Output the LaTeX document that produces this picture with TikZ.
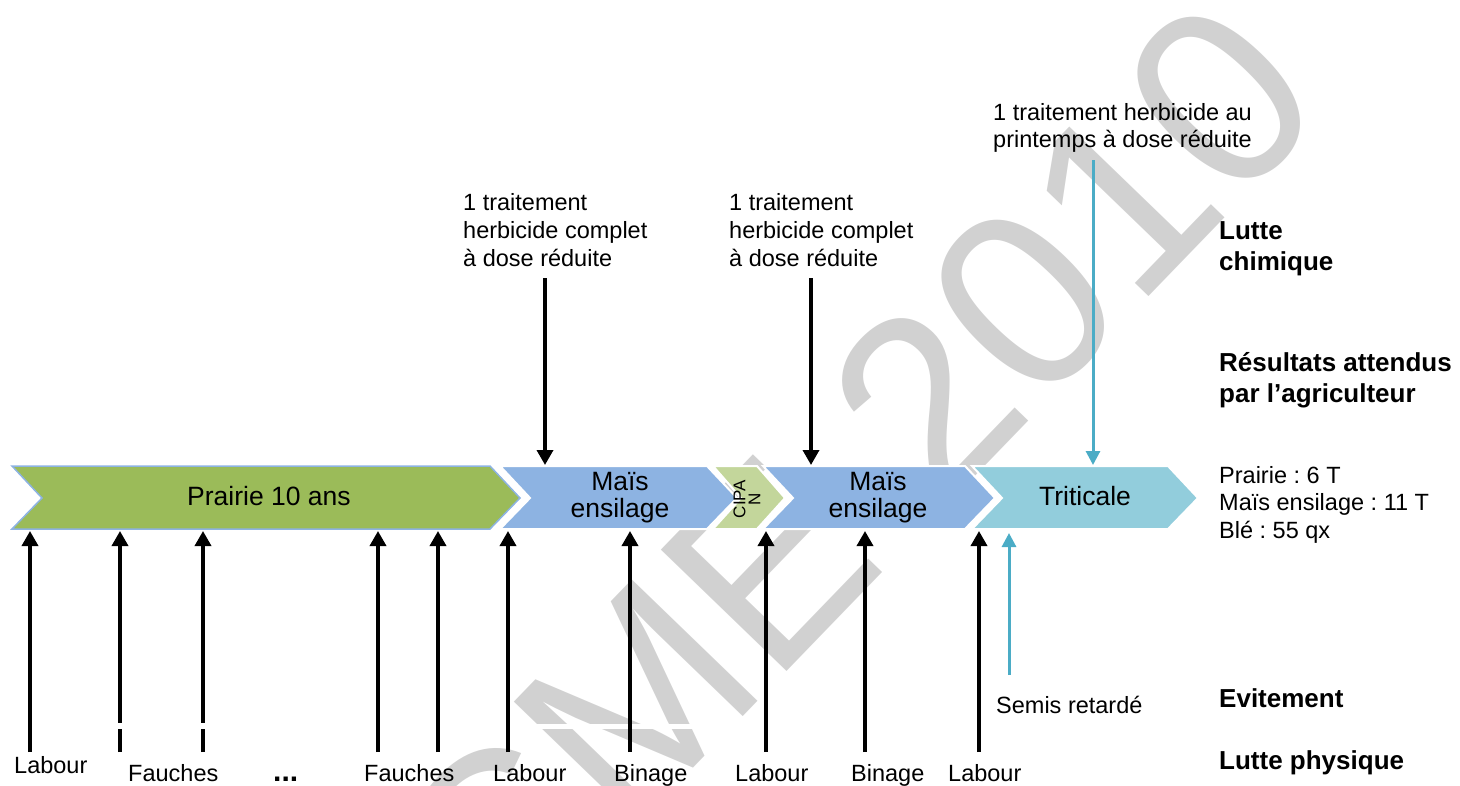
\documentclass[tikz,border=0pt]{standalone}
\usepackage{fontspec}
\setmainfont{Liberation Sans}
\usetikzlibrary{arrows.meta}
\frenchspacing
\definecolor{prairiecol}{HTML}{9BBB59}
\definecolor{maiscol}{HTML}{8DB3E2}
\definecolor{cipancol}{HTML}{C3D69B}
\definecolor{triticol}{HTML}{92CDDC}
\definecolor{tealcol}{HTML}{4BACC6}
\definecolor{wmcol}{RGB}{209,209,209}
\tikzset{
  txt/.style={font=\fontsize{23.5}{28}\selectfont, inner sep=0pt},
  chevtxt/.style={font=\fontsize{26.5}{27}\selectfont, inner sep=0pt, align=center},
  boldlbl/.style={font=\bfseries\fontsize{26}{31}\selectfont, inner sep=0pt, align=left},
  blackarrow/.style={line width=3.5pt, -{Triangle[width=16pt,length=15pt]}},
  tealarrow/.style={draw=tealcol, line width=3pt, -{Triangle[width=14pt,length=14pt]}},
  chevfill/.style={draw=white, line width=2pt},
}
\begin{document}
\begin{tikzpicture}[x=1pt,y=-1pt]
\useasboundingbox (0,0) rectangle (1460,785);
% watermark
\node[rotate=46, anchor=base east, inner sep=0pt, text=wmcol,
      font=\fontsize{254}{254}\selectfont] (wmk) at (1332,107) {CME 2010};
\fill[white] (440,724) rectangle (775,729);

% chevrons
\path[fill=prairiecol, draw=maiscol, line width=1.5pt]
  (12,466) -- (490,466) -- (520,498) -- (490,529) -- (12,529) -- (42,498) -- cycle;
\path[fill=maiscol, chevfill]
  (500,466) -- (707,466) -- (737,498) -- (707,529) -- (500,529) -- (530,498) -- cycle;
\path[fill=cipancol, chevfill]
  (713,466) -- (757,466) -- (785,498) -- (757,529) -- (713,529) -- (741,498) -- cycle;
\path[fill=maiscol, chevfill]
  (763,466) -- (965,466) -- (995,498) -- (965,529) -- (763,529) -- (793,498) -- cycle;
\path[fill=triticol, chevfill]
  (972,466) -- (1168,466) -- (1198,498) -- (1168,529) -- (972,529) -- (1002,498) -- cycle;

\node[chevtxt, anchor=base] (prairie) at (269,505) {Prairie 10 ans};
\node[chevtxt, anchor=north] (mais1) at (620,472) {Maïs\\ensilage};
\node[inner sep=0pt, rotate=90, align=center, font=\fontsize{17}{15}\selectfont] (cipan) at (747,499) {CIPA\\N};
\node[chevtxt, anchor=north] (mais2) at (878,472) {Maïs\\ensilage};
\node[chevtxt, anchor=base] (triti) at (1085,505) {Triticale};

% top texts
\node[txt, anchor=north west, align=left, font=\fontsize{23.5}{28}\selectfont] (chim1) at (463,193)
  {1 traitement\\herbicide complet\\à dose réduite};
\node[txt, anchor=north west, align=left, font=\fontsize{23.5}{28}\selectfont] (chim2) at (729,193)
  {1 traitement\\herbicide complet\\à dose réduite};
\node[txt, anchor=north west, align=left, font=\fontsize{23.5}{27}\selectfont] (chim3) at (993,103)
  {1 traitement herbicide au\\printemps à dose réduite};

% top arrows
\coordinate (a1s) at (545,278); \coordinate (a1e) at (545,465);
\coordinate (a2s) at (811,278); \coordinate (a2e) at (811,465);
\coordinate (a3s) at (1093,160); \coordinate (a3e) at (1093,465);
\draw[blackarrow] (a1s) -- (a1e);
\draw[blackarrow] (a2s) -- (a2e);
\draw[tealarrow] (a3s) -- (a3e);

% bottom arrows
\foreach \n/\x in {b1/30, b2/120, b3/203, b4/378, b5/438, b6/508, b7/630, b8/766, b9/865, b10/979}{
  \coordinate (\n s) at (\x,752);
  \coordinate (\n e) at (\x,531);
  \draw[blackarrow] (\n s) -- (\n e);
}
\fill[white] (110,723) rectangle (215,729);
\coordinate (sds) at (1009,675); \coordinate (sde) at (1009,533);
\draw[tealarrow] (sds) -- (sde);

% bottom labels
\node[txt, anchor=base west] (l1) at (14,773) {Labour};
\node[txt, anchor=base west] (f1) at (128,781) {Fauches};
\node[anchor=base west, inner sep=0pt, font=\bfseries\fontsize{30}{30}\selectfont] (dots) at (273,781) {...};
\node[txt, anchor=base west] (f2) at (364,781) {Fauches};
\node[txt, anchor=base west] (l2) at (493,781) {Labour};
\node[txt, anchor=base west] (bi1) at (614,781) {Binage};
\node[txt, anchor=base west] (l3) at (735,781) {Labour};
\node[txt, anchor=base west] (bi2) at (851,781) {Binage};
\node[txt, anchor=base west] (l4) at (948,781) {Labour};
\node[txt, anchor=base west] (semis) at (996,713) {Semis retardé};

% results
\node[txt, anchor=north west, align=left, font=\fontsize{23.5}{27.5}\selectfont] (res) at (1219,466)
  {Prairie : 6 T\\Maïs ensilage : 11 T\\Blé : 55 qx};

% right labels
\node[boldlbl, anchor=north west] (lchim) at (1219,221) {Lutte\\chimique};
\node[boldlbl, anchor=north west] (lres) at (1219,352) {Résultats attendus\\par l’agriculteur};
\node[boldlbl, anchor=base west] (levit) at (1219,707) {Evitement};
\node[boldlbl, anchor=base west] (lphys) at (1219,769) {Lutte physique};
\end{tikzpicture}
\end{document}
